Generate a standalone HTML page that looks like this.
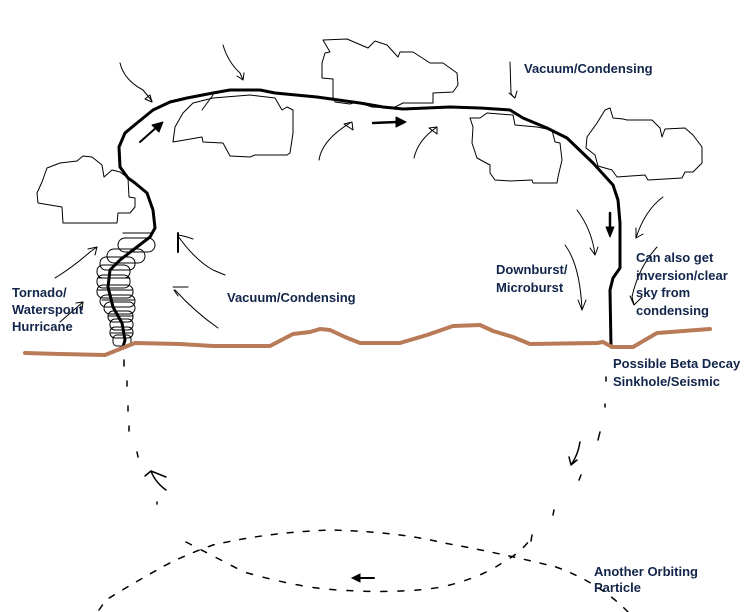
<!DOCTYPE html>
<html><head><meta charset="utf-8"><style>
html,body{margin:0;padding:0;background:#fff;}
svg{display:block;}
text{font-family:"Liberation Sans",Arial,sans-serif;font-weight:bold;font-size:13px;fill:#12254a;}
</style></head><body>
<svg width="751" height="612" viewBox="0 0 751 612" xmlns="http://www.w3.org/2000/svg">
<rect width="751" height="612" fill="#fff"/>
<g fill="none" stroke="#000" stroke-width="1" stroke-linejoin="round" stroke-linecap="round">
<!-- clouds -->
<polygon points="63,223 62,207 38,203 37,193 42,182 47,168 60,163 77,161 83,156 92,157 102,165 104,177 112,170 120,172 128,178 129,197 135,198 135,207 130,213 118,213 117,223 98,223"/>
<polygon points="173,142 175,127 183,113 193,103 213,98 250,95 275,98 282,110 287,107 293,110 293,133 290,153 287,155 255,155 250,157 230,156 223,143 203,142 202,137"/>
<polygon points="323,40 347,39 368,48 375,41 387,45 398,57 400,52 413,52 430,63 443,63 457,73 458,85 453,92 433,93 433,103 403,103 393,108 372,107 357,102 350,104 335,102 333,97 333,79 322,78 322,63 325,53 330,52"/>
<polygon points="470,118 480,118 487,113 513,115 515,125 537,127 552,130 555,142 560,143 562,160 558,177 557,183 533,183 532,180 510,181 495,180 490,173 490,165 477,158 472,143 473,127"/>
<polygon points="587,137 597,123 605,110 610,108 613,118 623,119 627,120 652,120 660,128 662,137 665,129 685,128 693,135 702,147 702,163 693,172 685,172 682,178 648,180 645,175 617,177 612,170 598,166 595,155 586,148"/>
<!-- tornado shapes -->
<path d="M123,233 L153,233"/>
<rect x="118" y="238" width="37" height="14" rx="7"/>
<rect x="107" y="249" width="38" height="14" rx="7"/>
<rect x="100" y="257" width="35" height="13" rx="6"/>
<rect x="97" y="265" width="33" height="13" rx="6"/>
<rect x="97" y="275" width="33" height="13" rx="6"/>
<rect x="97" y="285" width="36" height="13" rx="6"/>
<rect x="100" y="295" width="35" height="12" rx="6"/>
<rect x="104" y="302" width="31" height="12" rx="6"/>
<rect x="108" y="311" width="25" height="11" rx="5"/>
<rect x="110" y="319" width="23" height="11" rx="5"/>
<rect x="110" y="327" width="23" height="11" rx="5"/>
<rect x="113" y="335" width="18" height="11" rx="4"/>
<path d="M99,278 L130,278 M98,290 L132,290 M102,300 L134,300 M108,316 L133,316 M111,333 L133,333"/>
<!-- thin arrows -->
<path d="M120,63 Q124,80 143,90 L152,101"/>
<path d="M145,99 L152,102 L150,95 Z"/>
<path d="M223,45 Q228,62 240,73 L243,80"/>
<path d="M237,76 L243,80 L244,73"/>
<path d="M202,110 L213,95"/>
<path d="M319,160 Q322,140 350,123"/>
<path d="M344,124 L352,122 L353,130 Z"/>
<path d="M414,158 Q418,140 437,127"/>
<path d="M429,128 L437,127 L437,134 Z"/>
<path d="M510,62 L511,93 Q512,96 515,98"/>
<path d="M509,93 L515,98 L517,91"/>
<path d="M663,197 Q645,210 636,238"/>
<path d="M636,228 L636,238 L643,234"/>
<path d="M577,210 Q592,230 595,255"/>
<path d="M590,248 L595,255 L598,247"/>
<path d="M565,245 Q580,265 582,310"/>
<path d="M578,300 L582,310 L586,300"/>
<path d="M657,247 Q638,268 632,297 L634,305"/>
<path d="M630,296 L634,305 L642,297"/>
<path d="M55,278 Q73,267 90,252 L97,247"/>
<path d="M88,249 L97,247 L95,255"/>
<path d="M60,322 L83,302"/>
<path d="M76,303 L83,302 L82,310"/>
<path d="M178,235 Q185,236 193,239"/>
<path d="M178,236 Q195,260 213,270 L225,275"/>
<path d="M173,287 L188,287"/>
<path d="M175,290 Q195,312 218,328"/>
<path d="M174,290 L178,296"/>
</g>
<g fill="none" stroke="#000" stroke-linecap="round" stroke-linejoin="round">
<path stroke-width="2" d="M178,233 L178,252"/>
<path stroke-width="2" d="M140,142 L158,126"/>
<polygon fill="#000" stroke-width="1" points="163,122 152,125 159,132"/>
<path stroke-width="2.5" d="M373,123 L398,122"/>
<polygon fill="#000" stroke-width="1" points="406,122 396,117 396,127"/>
<path stroke-width="2.5" d="M610,213 L610,229"/>
<polygon fill="#000" stroke-width="1" points="610,237 606,227 614,227"/>
<!-- main thick outline -->
<path stroke-width="3" d="M123,347 L125,340 L122,323 L113,307 L108,287 L110,270 L120,260 L133,250 L150,237 L155,228 L153,210 L147,193 L135,183 L128,178 L120,167 L119,147 L125,133 L137,123 L153,110 L170,102 L187,98 L213,93 L230,90 L260,90 L275,93 L317,97 L360,103 L383,107 L403,109 L450,107 L480,108 L510,110 L523,118 L547,128 L567,138 L593,163 L613,185 L618,200 L620,223 L620,268 L613,278 L610,290 L611,347"/>
</g>
<!-- ground -->
<path fill="none" stroke="#b97a57" stroke-width="4" stroke-linejoin="round" stroke-linecap="round" d="M25,353 L60,354 L105,355 L120,349 L135,343 L180,344 L213,346 L270,346 L293,334 L310,332 L320,329 L330,330 L345,337 L360,343 L400,343 L427,335 L453,326 L480,325 L493,331 L513,337 L530,344 L597,343 L603,342 L612,347 L633,347 L657,333 L710,329"/>
<!-- underground dashes -->
<g fill="none" stroke="#000" stroke-width="1.5" stroke-linecap="round">
<path d="M124,360 L124,366 M127,381 L127,386 M128,406 L128,411 M129,426 L129,431 M137,452 L138,457 M157,502 L157,504"/>
<path d="M151,471 L145,476 M151,471 L166,477 M151,471 Q155,482 166,490"/>
<path d="M606,377 L606,381 M605,404 L605,407 M600,432 L598,440 M580,442 Q578,455 571,465 M571,465 L569,457 M571,465 L577,460 M581,475 L579,480 M554,510 L553,515 M532,535 L531,541"/>
<path stroke-dasharray="6 10" d="M99,610 L106,600 Q130,585 157,570 Q179,557 213,545 Q270,532 331,530 Q400,532 444,543 Q500,553 556,567 Q600,583 628,612"/>
<path stroke-dasharray="6 11" d="M186,542 Q215,557 244,572 Q300,588 338,590 Q400,594 442,587 Q480,578 502,563 Q522,552 531,538"/>
<path stroke-width="2" d="M358,578 L374,578"/>
<polygon fill="#000" stroke-width="1" points="352,578 360,574 360,582"/>
</g>
<!-- labels -->
<text x="524" y="73">Vacuum/Condensing</text>
<text x="227" y="302">Vacuum/Condensing</text>
<text x="496" y="274">Downburst/</text>
<text x="496" y="292">Microburst</text>
<text x="636" y="262">Can also get</text>
<text x="636" y="280">inversion/clear</text>
<text x="636" y="297">sky from</text>
<text x="636" y="315">condensing</text>
<text x="613" y="368">Possible Beta Decay</text>
<text x="613" y="386">Sinkhole/Seismic</text>
<text x="12" y="297">Tornado/</text>
<text x="12" y="314">Waterspout</text>
<text x="12" y="331">Hurricane</text>
<text x="594" y="576">Another Orbiting</text>
<text x="594" y="592">Particle</text>
</svg>
</body></html>
